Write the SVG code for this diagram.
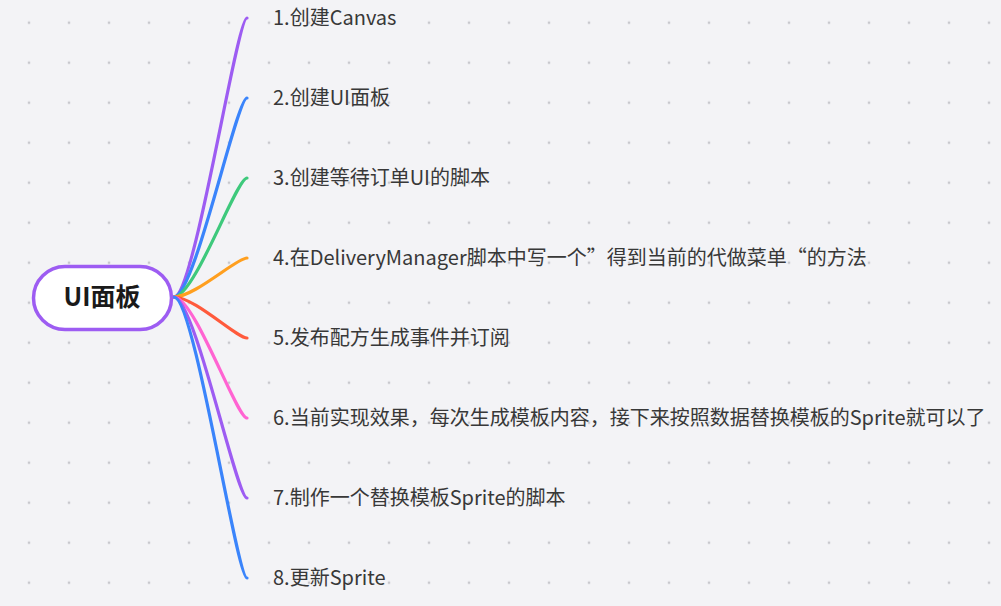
<svg xmlns="http://www.w3.org/2000/svg" width="1001" height="606" viewBox="0 0 1001 606">
<defs>
<pattern id="dots" x="9" y="2.7" width="40" height="40" patternUnits="userSpaceOnUse">
<rect x="18.8" y="18.8" width="2.4" height="2.4" fill="#c8c8cd"/>
</pattern>
<style>
.lbl{font-family:"Noto Sans CJK SC","Noto Sans",sans-serif;font-size:20px;fill:#383838}
.root-t{font-family:"Noto Sans CJK SC","Noto Sans",sans-serif;font-size:25px;font-weight:600;fill:#1a1a1a}
.br{fill:none;stroke-width:3.2;stroke-linecap:round}
</style>
</defs>
<rect width="1001" height="606" fill="#f3f3f6"/>
<rect width="1001" height="606" fill="url(#dots)"/>
<g id="connectors">
<path class="br" stroke="#9d5cf2" d="M174,297 C194.5,297 236.5,18 247,18"/>
<path class="br" stroke="#3a84fb" d="M174,297 C194.5,297 236.5,98 247,98"/>
<path class="br" stroke="#3ec97c" d="M174,297 C194.5,297 236.5,178 247,178"/>
<path class="br" stroke="#ff9f1f" d="M174,297 C194.5,297 236.5,258 247,258"/>
<path class="br" stroke="#ff5a3c" d="M174,297 C194.5,297 236.5,338 247,338"/>
<path class="br" stroke="#ff63d2" d="M174,297 C194.5,297 236.5,418 247,418"/>
<path class="br" stroke="#9d5cf2" d="M174,297 C194.5,297 236.5,498 247,498"/>
<path class="br" stroke="#3a84fb" d="M174,297 C194.5,297 236.5,578 247,578"/>
</g>
<g id="root">
<rect x="33.5" y="266.5" width="138" height="63" rx="31.5" fill="#ffffff" stroke="#9d5cf2" stroke-width="3.5"/>
<text class="root-t" x="102" y="306" text-anchor="middle">UI面板</text>
</g>
<g id="n1"><text class="lbl" x="273" y="25">1.创建Canvas</text></g>
<g id="n2"><text class="lbl" x="273" y="105">2.创建UI面板</text></g>
<g id="n3"><text class="lbl" x="273" y="185">3.创建等待订单UI的脚本</text></g>
<g id="n4"><text class="lbl" x="273" y="265">4.在DeliveryManager脚本中写一个”得到当前的代做菜单“的方法</text></g>
<g id="n5"><text class="lbl" x="273" y="345">5.发布配方生成事件并订阅</text></g>
<g id="n6"><text class="lbl" x="273" y="425">6.当前实现效果，每次生成模板内容，接下来按照数据替换模板的Sprite就可以了</text></g>
<g id="n7"><text class="lbl" x="273" y="505">7.制作一个替换模板Sprite的脚本</text></g>
<g id="n8"><text class="lbl" x="273" y="585">8.更新Sprite</text></g>
</svg>
